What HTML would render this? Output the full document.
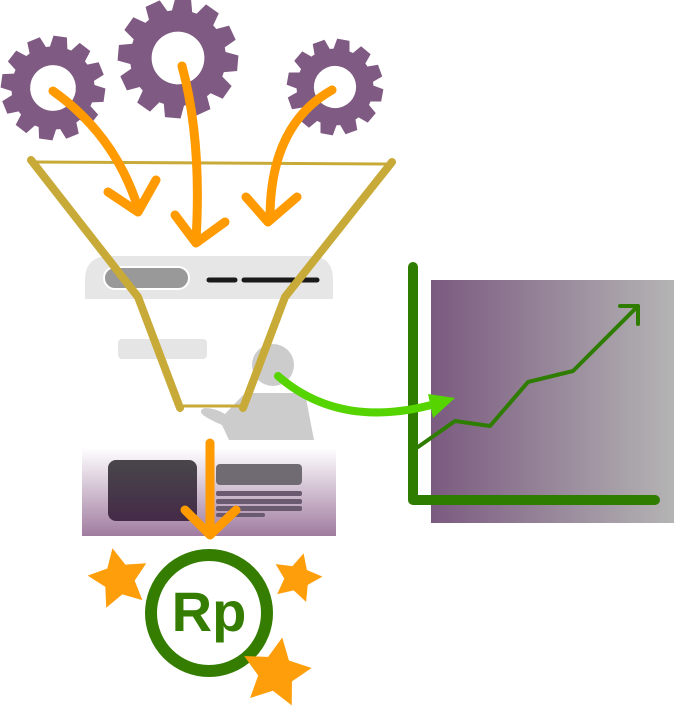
<!DOCTYPE html>
<html><head><meta charset="utf-8"><style>html,body{margin:0;padding:0;background:#fff}svg{display:block}</style></head>
<body>
<svg width="674" height="712" viewBox="0 0 674 712" xmlns="http://www.w3.org/2000/svg">
<defs>
<linearGradient id="cg" x1="0" y1="0" x2="1" y2="0"><stop offset="0" stop-color="#7b5a80"/><stop offset="1" stop-color="#b4b4b4"/></linearGradient>
<linearGradient id="kg" x1="0" y1="0" x2="0" y2="1"><stop offset="0" stop-color="#fff"/><stop offset="1" stop-color="#a07ca0"/></linearGradient>
<linearGradient id="dg" x1="0" y1="0" x2="0" y2="1"><stop offset="0" stop-color="#48464a"/><stop offset="1" stop-color="#452b48"/></linearGradient>
<polygon id="tooth" points="-9,-36 -6.5,-50 6.5,-50 9,-36" fill="#7f5a83"/>
<g id="gear">
<circle r="40" fill="#7f5a83"/>
<use href="#tooth"/>
<use href="#tooth" transform="rotate(30)"/>
<use href="#tooth" transform="rotate(60)"/>
<use href="#tooth" transform="rotate(90)"/>
<use href="#tooth" transform="rotate(120)"/>
<use href="#tooth" transform="rotate(150)"/>
<use href="#tooth" transform="rotate(180)"/>
<use href="#tooth" transform="rotate(210)"/>
<use href="#tooth" transform="rotate(240)"/>
<use href="#tooth" transform="rotate(270)"/>
<use href="#tooth" transform="rotate(300)"/>
<use href="#tooth" transform="rotate(330)"/>
<circle r="22" fill="#fff"/>
</g>
<polygon id="st" fill="#ff9e0b" points="0,-30 8.8,-12.1 28.5,-9.3 14.3,4.6 17.6,24.3 0,15 -17.6,24.3 -14.3,4.6 -28.5,-9.3 -8.8,-12.1"/>
</defs>
<use href="#gear" transform="translate(53,88) rotate(8) scale(1.04)"/>
<use href="#gear" transform="translate(178,58) rotate(5) scale(1.2)"/>
<use href="#gear" transform="translate(335,87) rotate(10) scale(0.96)"/>
<!-- browser mock -->
<path d="M85,299 V280 Q85,256 110,256 H310 Q333,256 333,280 V299 Z" fill="#e6e6e6"/>
<rect x="104" y="267" width="85" height="22" rx="11" fill="#999" stroke="#fff" stroke-width="2"/>
<line x1="209" y1="280" x2="235" y2="280" stroke="#1a1a1a" stroke-width="5" stroke-linecap="round"/>
<line x1="244" y1="280" x2="317" y2="280" stroke="#1a1a1a" stroke-width="5" stroke-linecap="round"/>
<rect x="118" y="339" width="89" height="20" rx="4" fill="#e5e5e5"/>
<circle cx="273" cy="365" r="21" fill="#ccc"/>
<path d="M245,393 H305 L314,440 H229 L222,425 Q210,420 203,415 Q198,410 205,408 Q215,408 225,414 Z" fill="#ccc"/>
<!-- card -->
<rect x="82" y="448" width="254" height="88" fill="url(#kg)"/>
<rect x="108" y="460" width="89" height="61" rx="8" fill="url(#dg)"/>
<rect x="216" y="464" width="86" height="21" rx="4" fill="#706a72"/>
<rect x="216" y="491" width="86" height="5" rx="2" fill="#6a5a70"/>
<rect x="216" y="499" width="86" height="5" rx="2" fill="#6a5a70"/>
<rect x="216" y="506" width="86" height="5" rx="2" fill="#6a5a70"/>
<rect x="216" y="513" width="49" height="4" rx="2" fill="#6a5a70"/>
<!-- funnel -->
<line x1="33" y1="162" x2="392" y2="164" stroke="#c8aa38" stroke-width="3"/>
<polyline points="31,160 138,297 180,408" fill="none" stroke="#c8aa38" stroke-width="8" stroke-linecap="round" stroke-linejoin="round"/>
<polyline points="392,162 285,297 243,408" fill="none" stroke="#c8aa38" stroke-width="8" stroke-linecap="round" stroke-linejoin="round"/>
<line x1="180" y1="406" x2="243" y2="406" stroke="#c8aa38" stroke-width="3"/>
<!-- orange arrows -->
<g fill="none" stroke="#ff9a00" stroke-width="9" stroke-linecap="round" stroke-linejoin="round">
<path d="M53,91 Q115,135 138,208"/><polyline points="108,192 138,212 156,180"/>
<path d="M182,66 Q202,140 196,240"/><polyline points="175,215 196,243 225,222"/>
<path d="M332,90 Q270,125 270,218"/><polyline points="246,197 268,222 297,197"/>
<path d="M210,443 V533"/><polyline points="185,510 210,535 236,510"/>
</g>
<!-- chart -->
<rect x="431" y="280" width="243" height="243" fill="url(#cg)"/>
<g stroke="#2f7d00" fill="none" stroke-linecap="round" stroke-linejoin="round">
<polyline points="413,267 413,500 655,500" stroke-width="10"/>
<polyline points="418,447 455,421 490,426 528,382 573,371 638,306" stroke-width="4"/>
<polyline points="620,306 638,306 638,324" stroke-width="4"/>
</g>
<path d="M278,376 Q340,430 435,404" fill="none" stroke="#55d400" stroke-width="8" stroke-linecap="round"/>
<polygon points="428,394 455,398 433,418" fill="#55d400"/>
<!-- stars -->
<use href="#st" transform="translate(119,579) rotate(-12) scale(1.05)"/>
<use href="#st" transform="translate(297,578) rotate(15) scale(0.85)"/>
<!-- Rp -->
<circle cx="209" cy="613" r="58" fill="none" stroke="#347d00" stroke-width="12"/>
<text x="209" y="631" text-anchor="middle" font-family="Liberation Sans, sans-serif" font-weight="bold" font-size="56" fill="#347d00">Rp</text>
<use href="#st" transform="translate(276,673) rotate(10) scale(1.2)"/>
</svg>
</body></html>
